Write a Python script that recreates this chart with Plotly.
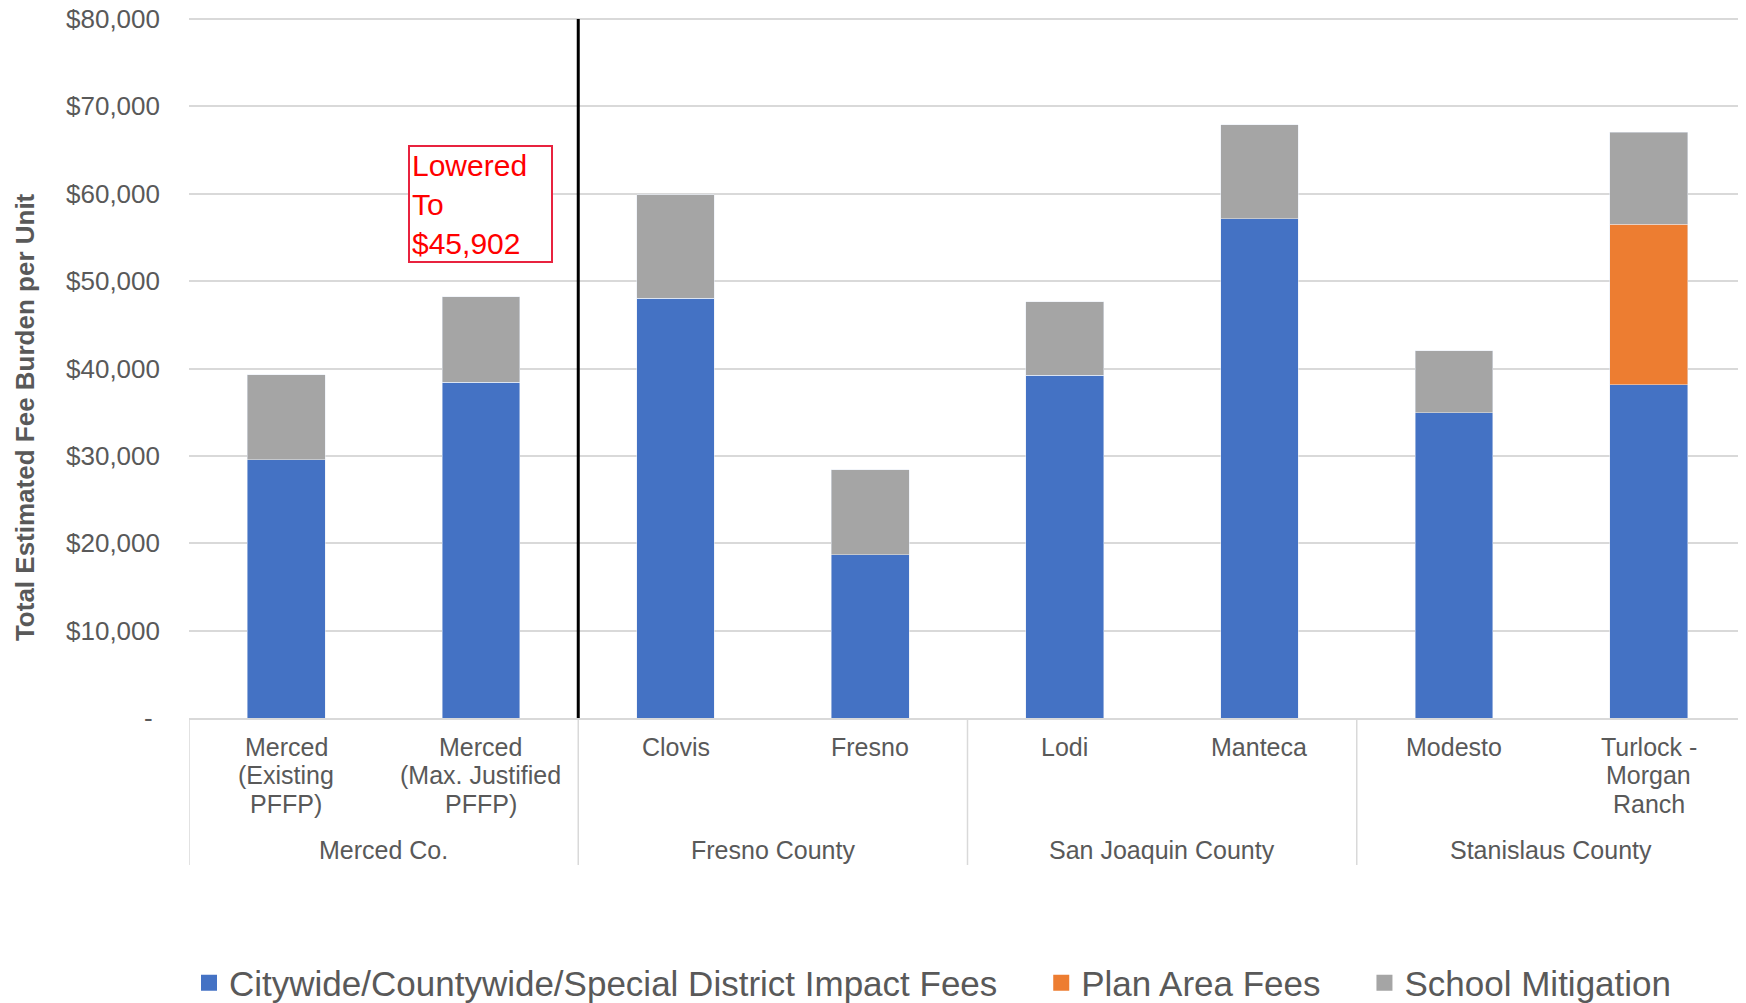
import plotly.graph_objects as go

categories = ["Merced<br>(Existing<br>PFFP)", "Merced<br>(Max. Justified<br>PFFP)", "Clovis", "Fresno",
              "Lodi", "Manteca", "Modesto", "Turlock -<br>Morgan<br>Ranch"]
groups = ["Merced Co.", "Fresno County", "San Joaquin County", "Stanislaus County"]
group_centers = [0.5, 2.5, 4.5, 6.5]
group_edges = [-0.5, 1.5, 3.5, 5.5, 7.5]

series_names = ["Citywide/Countywide/Special District Impact Fees", "Plan Area Fees", "School Mitigation"]
series_colors = ["#4472C4", "#ED7D31", "#A5A5A5"]
citywide = [29550, 38400, 48020, 18710, 39220, 57150, 34950, 38150]
plan_area = [0, 0, 0, 0, 0, 0, 0, 18350]
school = [9750, 9800, 11850, 9690, 8420, 10750, 7090, 10550]

y_tickvals = [0, 10000, 20000, 30000, 40000, 50000, 60000, 70000, 80000]
y_ticktext = ["-\u00a0", "$10,000", "$20,000", "$30,000", "$40,000", "$50,000", "$60,000", "$70,000", "$80,000"]
y_max = 80000

FONT = "Liberation Sans, Arial, sans-serif"
GREY_TXT = "#595959"
GRID = "#D9D9D9"

x = list(range(len(categories)))

fig = go.Figure()
for vals, nm, col in zip([citywide, plan_area, school], series_names, series_colors):
    fig.add_trace(go.Bar(x=x, y=vals, name=nm, marker_color=col, width=0.4, showlegend=False))
# legend entries (larger square symbols)
for nm, col in zip(series_names, series_colors):
    fig.add_trace(go.Scatter(x=[None], y=[None], mode="markers", name=nm + "\u00a0" * 4,
                             marker=dict(symbol="square", size=16, color=col)))

OFF = 8  # page body margin
EXTRA = 3  # px of headroom above the top gridline
L, T, B = 189 - OFF, 19 - OFF - EXTRA, 285
W, H = 1746 - OFF, 1003 - OFF
plot_w = W - L
plot_h = H - T - B
range_top = y_max * plot_h / (plot_h - EXTRA)

def py(px_below):
    return -(px_below) / plot_h

# category labels, one annotation per line for tighter line spacing
for i, c in enumerate(categories):
    for j, line in enumerate(c.split("<br>")):
        fig.add_annotation(x=i, y=py(29 + j * 28.4), xref="x", yref="paper", text=line, showarrow=False,
                           yanchor="middle", xanchor="center",
                           font=dict(family=FONT, size=25, color=GREY_TXT))
# group labels
for g, gc in zip(groups, group_centers):
    fig.add_annotation(x=gc, y=py(132), xref="x", yref="paper", text=g, showarrow=False,
                       yanchor="middle", xanchor="center",
                       font=dict(family=FONT, size=25, color=GREY_TXT))
# dividers
for e in group_edges:
    fig.add_shape(type="line", xref="x", yref="paper", x0=e, x1=e, y0=0, y1=py(147),
                  line=dict(color=GRID, width=1.5))
# black separator
fig.add_shape(type="line", xref="x", yref="y", x0=1.5, x1=1.5, y0=0, y1=y_max,
              line=dict(color="black", width=3))

# y-axis title as annotation
fig.add_annotation(x=(24.5 - OFF - L) / plot_w, y=(1003 - B - 417.6) / plot_h, xref="paper", yref="paper",
                   text="<b>Total Estimated Fee Burden per Unit</b>", textangle=-90, showarrow=False,
                   xanchor="center", yanchor="middle",
                   font=dict(family=FONT, size=26, color=GREY_TXT))

# callout
fig.add_annotation(x=1, y=58800, xref="x", yref="y", text="Lowered<br>To<br>$45,902", showarrow=False,
                   align="left", width=137, height=110, borderpad=2, bordercolor="#E8233F", borderwidth=2,
                   font=dict(family=FONT, size=30, color="#FF0000"), bgcolor="white")

fig.update_layout(
    width=W, height=H,
    margin=dict(l=L, r=0, t=T, b=B, autoexpand=False),
    barmode="stack",
    plot_bgcolor="white", paper_bgcolor="white",
    font=dict(family=FONT, color=GREY_TXT),
    showlegend=True,
    legend=dict(orientation="h", x=0.0, xanchor="left", y=py(265), yanchor="middle",
                font=dict(family=FONT, size=35, color=GREY_TXT), traceorder="normal",
                itemclick=False, itemdoubleclick=False),
    xaxis=dict(range=[-0.5, 7.5], showticklabels=False, showgrid=False, showline=True,
               linecolor=GRID, linewidth=2, zeroline=False, fixedrange=True),
    yaxis=dict(range=[0, range_top], tickvals=y_tickvals, ticktext=y_ticktext, showgrid=True,
               gridcolor=GRID, gridwidth=1.5, zeroline=False, showline=False,
               ticks="", ticklabelstandoff=28, ticklabeloverflow="allow",
               tickfont=dict(family=FONT, size=26, color=GREY_TXT)),
)

fig.write_html("out.html")
